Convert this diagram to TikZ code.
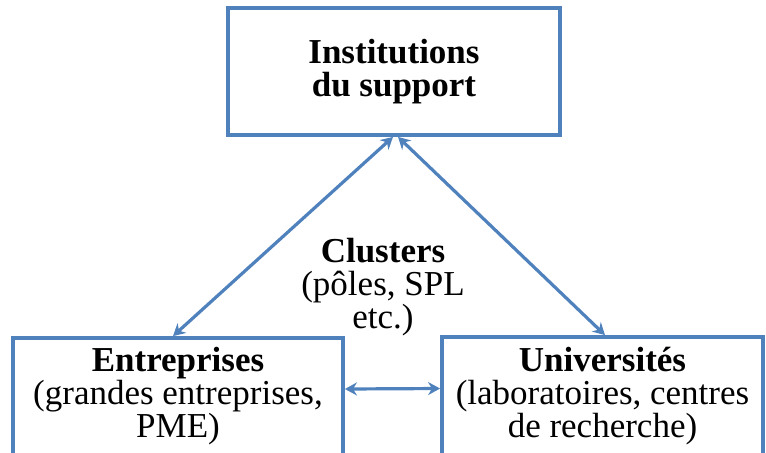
\documentclass[tikz,border=0pt]{standalone}
\usepackage{fontspec}
\setmainfont{Liberation Serif}
\usetikzlibrary{arrows.meta}
\definecolor{frameblue}{RGB}{79,129,189}

\begin{document}
\begin{tikzpicture}[x=0.5pt, y=-0.5pt, >={Stealth[length=6pt,width=6.5pt]},
  actor/.style={draw=frameblue, line width=1.9pt, fill=white, align=center, inner sep=0pt, font=\fontsize{17.5}{16.5}\selectfont},
  link/.style={<->, draw=frameblue, line width=1.6pt}]
  % Page frame (same size as the original picture)
  \useasboundingbox (0,0) rectangle (766,452);
  \clip (0,0) rectangle (766,452);

  % 1. Boxes of the three actors
  \node[actor, minimum width=166pt, minimum height=63.5pt] (inst) at (394,71.5)
    {\textbf{Institutions}\\\textbf{du support}};
  \node[actor, minimum width=165pt, minimum height=58.5pt] (ent) at (178,396.5)
    {\textbf{Entreprises}\\(grandes entreprises,\\PME)};
  \node[actor, minimum width=160.5pt, minimum height=59pt] (uni) at (602.5,396)
    {\textbf{Universités}\\(laboratoires, centres\\de recherche)};

  % 2. Label in the middle of the triangle
  \node[align=center, font=\fontsize{17.5}{16.5}\selectfont] (clu) at (383,287)
    {\textbf{Clusters}\\(pôles, SPL\\etc.)};

  % 3. Two-way links between the actors
  \draw[link] ([xshift=-0.5pt]inst.south) -- ([xshift=-2.5pt]ent.north);
  \draw[link] ([xshift=2pt]inst.south) -- ([xshift=1.25pt]uni.north);
  \draw[link] ([yshift=3.75pt]ent.east) -- ([yshift=3.75pt]uni.west);
\end{tikzpicture}
\end{document}
